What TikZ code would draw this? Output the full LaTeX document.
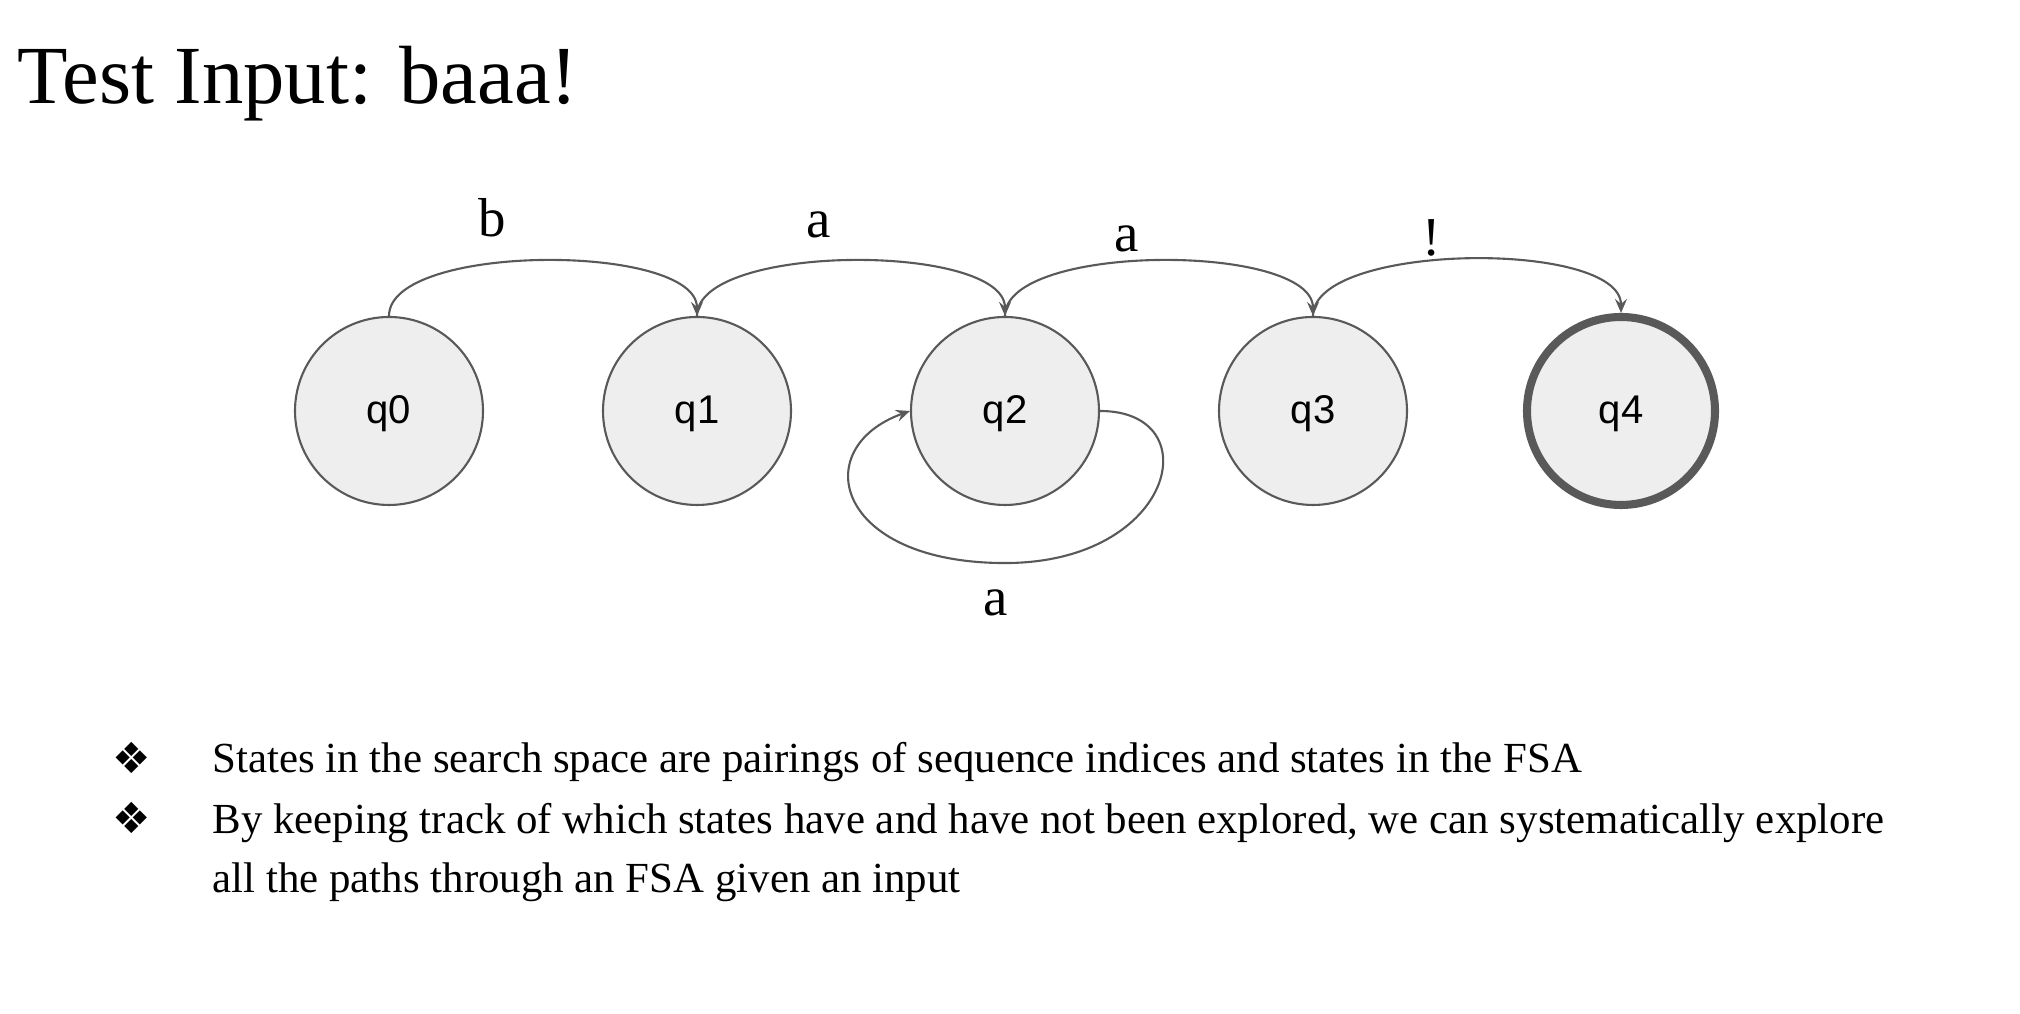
\documentclass[tikz,border=0pt]{standalone}
\usepackage{fontspec}
\setmainfont{Liberation Serif}
\newfontfamily\statefont{Liberation Sans}
\newfontfamily\dingfont{DejaVu Sans}
\usetikzlibrary{arrows.meta, positioning}
\definecolor{fsaline}{RGB}{89, 89, 89}
\definecolor{fsafill}{RGB}{238, 238, 238}

\begin{document}
\begin{tikzpicture}[
    >={Stealth[length=1.4mm, width=1.2mm, inset=0.5mm]},
    state/.style={circle, draw=fsaline, fill=fsafill, line width=0.6pt, minimum size=1.88cm, inner sep=0pt,
        text height=0.716em, text depth=0pt, font=\statefont\fontsize{11.4}{14}\selectfont},
    accept/.style={state, line width=2.3pt},
    edge/.style={->, fsaline, line width=0.6pt},
    sym/.style={anchor=base, font=\fontsize{15.6}{19}\selectfont},
    body/.style={anchor=base west, align=left, inner sep=0pt, font=\fontsize{12.2}{17}\selectfont},
    node distance=3.08cm, on grid
]
\useasboundingbox (0,0) rectangle (20.2,10.14);

% === Titel ===
\node[anchor=base west, inner sep=0pt, font=\fontsize{23.5}{28}\selectfont] (title) at (0.17, 9.10) {Test Input: baaa!};

% === Zustaende ===
\node[state] (q0) at (3.89, 6.03) {q0};
\node[state, right=of q0] (q1) {q1};
\node[state, right=of q1] (q2) {q2};
\node[state, right=of q2] (q3) {q3};
\node[accept, right=of q3] (q4) {q4};

% === Uebergaenge ===
\draw[edge] (q0.north) to[out=90, in=90, looseness=0.61] (q1.north);
\draw[edge] (q1.north) to[out=90, in=90, looseness=0.61] (q2.north);
\draw[edge] (q2.north) to[out=90, in=90, looseness=0.61] (q3.north);
\draw[edge] (q3.north) to[out=90, in=90, looseness=0.61] (q4.north);

% Schleife an q2
\draw[edge] (q2.east) .. controls +(1.1,0) and +(1.7,0) .. ([yshift=-0.57cm]q2.south)
    .. controls +(-1.7,0) and +(-1.03,-0.37) .. (q2.west);

% Beschriftungen
\node[sym] (lb) at (4.92, 7.77) {b};
\node[sym] (la1) at (8.19, 7.76) {a};
\node[sym] (la2) at (11.27, 7.62) {a};
\node[sym] (lx) at (14.32, 7.58) {!};
\node[sym] (lloop) at (9.96, 3.98) {a};

% === Aufzaehlung ===
\node[font=\dingfont\fontsize{12.2}{15}\selectfont] (d1) at (1.32, 2.56) {❖};
\node[font=\dingfont\fontsize{12.2}{15}\selectfont] (d2) at (1.32, 1.96) {❖};
\node[body] (t1) at (2.12, 2.41) {States in the search space are pairings of sequence indices and states in the FSA};
\node[body] (t2) at (2.12, 1.21) {By keeping track of which states have and have not been explored, we can systematically explore\\
    all the paths through an FSA given an input};

\end{tikzpicture}
\end{document}
